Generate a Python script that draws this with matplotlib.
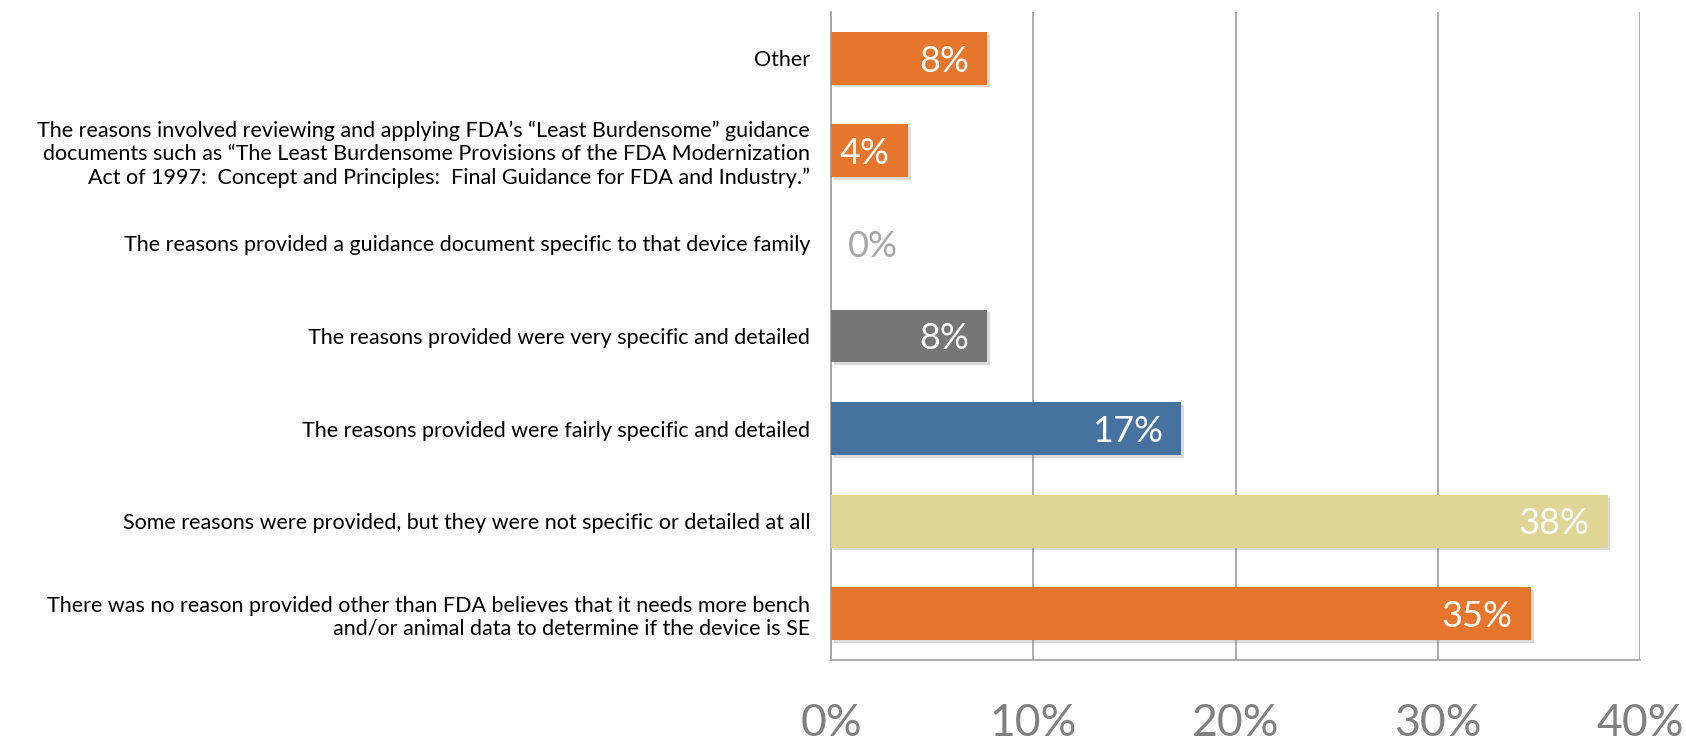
import matplotlib.pyplot as plt
import matplotlib.patheffects as pe
from matplotlib.ticker import FuncFormatter

plt.rcParams['font.family'] = ['Lato', 'DejaVu Sans']

# answers, top to bottom
categories = [
    'Other',
    'The reasons involved reviewing and applying FDA\u2019s \u201cLeast Burdensome\u201d guidance\n'
    'documents such as \u201cThe Least Burdensome Provisions of the FDA Modernization\n'
    'Act of 1997:  Concept and Principles:  Final Guidance for FDA and Industry.\u201d',
    'The reasons provided a guidance document specific to that device family',
    'The reasons provided were very specific and detailed',
    'The reasons provided were fairly specific and detailed',
    'Some reasons were provided, but they were not specific or detailed at all',
    'There was no reason provided other than FDA believes that it needs more bench\n'
    'and/or animal data to determine if the device is SE',
]
shares = [7.7, 3.8, 0.0, 7.7, 17.3, 38.4, 34.6]
colors = ['#E6762C', '#E6762C', '#A6A6A6', '#767676', '#4672A0', '#DFD696', '#E6762C']
ticks = [0, 10, 20, 30, 40]

fig = plt.figure(figsize=(16.86, 7.42), dpi=100)
ax = fig.add_axes([0.4929, 0.1105, 0.4798, 0.8733])

ypos = range(len(categories))
bars = ax.barh(ypos, shares, height=0.57, color=colors, zorder=3)
for b in bars:
    b.set_path_effects([pe.SimplePatchShadow(offset=(2, -2), shadow_rgbFace='#888888', alpha=0.3),
                        pe.Normal()])

for y, v in zip(ypos, shares):
    label = '{:.0f}%'.format(v)
    if v > 0:
        ax.annotate(label, (v, y), xytext=(-13, -2), textcoords='offset points',
                    ha='right', va='center', color='white', fontsize=26, zorder=4)
    else:
        ax.annotate(label, (v, y), xytext=(12, -2), textcoords='offset points',
                    ha='left', va='center', color='#A6A6A6', fontsize=26, zorder=4)

ax.set_xlim(0, 40)
ax.set_ylim(-0.5, len(categories) - 0.5)
ax.invert_yaxis()

ax.set_yticks(list(ypos))
ax.set_yticklabels(categories, fontsize=15.5, color='black', linespacing=1.2)
ax.set_xticks(ticks)
ax.xaxis.set_major_formatter(FuncFormatter(lambda x, p: '{:.0f}%'.format(x)))
ax.tick_params(axis='x', length=0, pad=31, labelsize=32, labelcolor='#808080')
ax.tick_params(axis='y', length=0, pad=15)

ax.grid(axis='x', color='#A6A6A6', linewidth=1.3, zorder=0)
for side in ['top', 'right']:
    ax.spines[side].set_visible(False)
for side in ['left', 'bottom']:
    ax.spines[side].set_color('#A6A6A6')
    ax.spines[side].set_linewidth(1.3)

fig.savefig('out.png', dpi=100)
